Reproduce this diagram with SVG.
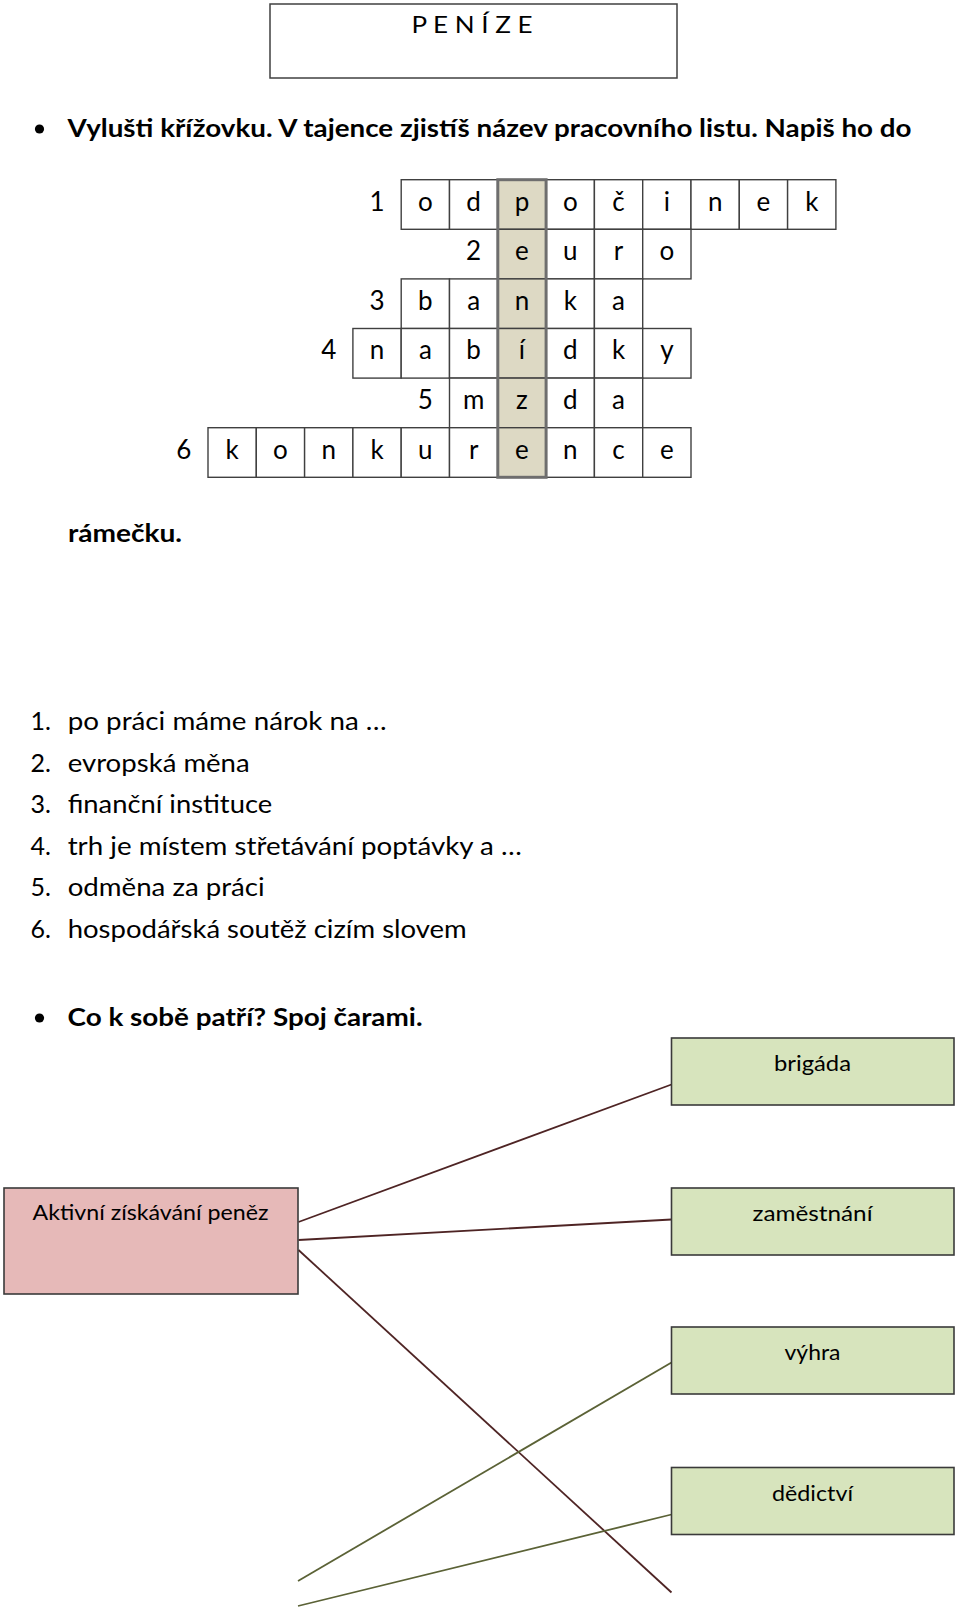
<svg xmlns="http://www.w3.org/2000/svg" width="960" height="1609" viewBox="0 0 960 1609">
<style>
text{font-family:Lato,"Open Sans","Liberation Sans",sans-serif;fill:#000}
.b{font-weight:bold;font-size:24px}
.t{font-size:24px}
.l{font-size:25px}
.c{font-size:26px;text-anchor:middle}
.cell{fill:#fff;stroke:#404040;stroke-width:1.4}
.sh{fill:#ddd9c4;stroke:#404040;stroke-width:1.4}
.box{stroke:#3a3a3a;stroke-width:1.6}
.g{fill:#d7e4bd}
.p{fill:#e6b9b8}
.bx{font-size:22px;text-anchor:middle}
.m{stroke:#4e2424;stroke-width:1.8;fill:none}
.o{stroke:#5b6236;stroke-width:1.8;fill:none}
</style>
<rect width="960" height="1609" fill="#fff"/>
<g id="title">
<rect x="270" y="4" width="407" height="74" fill="#fff" stroke="#404040" stroke-width="1.5"/>
<text class="t" x="411.5" y="33" textLength="121" lengthAdjust="spacingAndGlyphs">P E N Í Z E</text>
</g>
<g id="instruction1">
<circle cx="39.5" cy="129" r="4.6"/>
<text class="b" x="67.5" y="137" textLength="844" lengthAdjust="spacingAndGlyphs">Vylušti křížovku. V tajence zjistíš název pracovního listu. Napiš ho do</text>
<text class="b" x="68" y="542" textLength="114" lengthAdjust="spacingAndGlyphs">rámečku.</text>
</g>
<g id="crossword">
<rect class="cell" x="401.2" y="179.7" width="48.3" height="49.6"/>
<rect class="cell" x="449.5" y="179.7" width="48.3" height="49.6"/>
<rect class="sh" x="497.8" y="179.7" width="48.3" height="49.6"/>
<rect class="cell" x="546.1" y="179.7" width="48.3" height="49.6"/>
<rect class="cell" x="594.4" y="179.7" width="48.3" height="49.6"/>
<rect class="cell" x="642.7" y="179.7" width="48.3" height="49.6"/>
<rect class="cell" x="691" y="179.7" width="48.3" height="49.6"/>
<rect class="cell" x="739.3" y="179.7" width="48.3" height="49.6"/>
<rect class="cell" x="787.6" y="179.7" width="48.3" height="49.6"/>
<rect class="sh" x="497.8" y="229.3" width="48.3" height="49.6"/>
<rect class="cell" x="546.1" y="229.3" width="48.3" height="49.6"/>
<rect class="cell" x="594.4" y="229.3" width="48.3" height="49.6"/>
<rect class="cell" x="642.7" y="229.3" width="48.3" height="49.6"/>
<rect class="cell" x="401.2" y="278.9" width="48.3" height="49.6"/>
<rect class="cell" x="449.5" y="278.9" width="48.3" height="49.6"/>
<rect class="sh" x="497.8" y="278.9" width="48.3" height="49.6"/>
<rect class="cell" x="546.1" y="278.9" width="48.3" height="49.6"/>
<rect class="cell" x="594.4" y="278.9" width="48.3" height="49.6"/>
<rect class="cell" x="352.9" y="328.5" width="48.3" height="49.6"/>
<rect class="cell" x="401.2" y="328.5" width="48.3" height="49.6"/>
<rect class="cell" x="449.5" y="328.5" width="48.3" height="49.6"/>
<rect class="sh" x="497.8" y="328.5" width="48.3" height="49.6"/>
<rect class="cell" x="546.1" y="328.5" width="48.3" height="49.6"/>
<rect class="cell" x="594.4" y="328.5" width="48.3" height="49.6"/>
<rect class="cell" x="642.7" y="328.5" width="48.3" height="49.6"/>
<rect class="cell" x="449.5" y="378.1" width="48.3" height="49.6"/>
<rect class="sh" x="497.8" y="378.1" width="48.3" height="49.6"/>
<rect class="cell" x="546.1" y="378.1" width="48.3" height="49.6"/>
<rect class="cell" x="594.4" y="378.1" width="48.3" height="49.6"/>
<rect class="cell" x="208" y="427.7" width="48.3" height="49.6"/>
<rect class="cell" x="256.3" y="427.7" width="48.3" height="49.6"/>
<rect class="cell" x="304.6" y="427.7" width="48.3" height="49.6"/>
<rect class="cell" x="352.9" y="427.7" width="48.3" height="49.6"/>
<rect class="cell" x="401.2" y="427.7" width="48.3" height="49.6"/>
<rect class="cell" x="449.5" y="427.7" width="48.3" height="49.6"/>
<rect class="sh" x="497.8" y="427.7" width="48.3" height="49.6"/>
<rect class="cell" x="546.1" y="427.7" width="48.3" height="49.6"/>
<rect class="cell" x="594.4" y="427.7" width="48.3" height="49.6"/>
<rect class="cell" x="642.7" y="427.7" width="48.3" height="49.6"/>
<rect x="497.8" y="179.7" width="48.3" height="297.6" fill="none" stroke="#6e6e6e" stroke-width="3"/>
<text class="c" y="210.5"><tspan x="377.05">1</tspan><tspan x="425.35">o</tspan><tspan x="473.65">d</tspan><tspan x="521.95">p</tspan><tspan x="570.25">o</tspan><tspan x="618.55">č</tspan><tspan x="666.85">i</tspan><tspan x="715.15">n</tspan><tspan x="763.45">e</tspan><tspan x="811.75">k</tspan></text>
<text class="c" y="260.1"><tspan x="473.65">2</tspan><tspan x="521.95">e</tspan><tspan x="570.25">u</tspan><tspan x="618.55">r</tspan><tspan x="666.85">o</tspan></text>
<text class="c" y="309.7"><tspan x="377.05">3</tspan><tspan x="425.35">b</tspan><tspan x="473.65">a</tspan><tspan x="521.95">n</tspan><tspan x="570.25">k</tspan><tspan x="618.55">a</tspan></text>
<text class="c" y="359.3"><tspan x="328.75">4</tspan><tspan x="377.05">n</tspan><tspan x="425.35">a</tspan><tspan x="473.65">b</tspan><tspan x="521.95">í</tspan><tspan x="570.25">d</tspan><tspan x="618.55">k</tspan><tspan x="666.85">y</tspan></text>
<text class="c" y="408.9"><tspan x="425.35">5</tspan><tspan x="473.65">m</tspan><tspan x="521.95">z</tspan><tspan x="570.25">d</tspan><tspan x="618.55">a</tspan></text>
<text class="c" y="458.5"><tspan x="183.85">6</tspan><tspan x="232.15">k</tspan><tspan x="280.45">o</tspan><tspan x="328.75">n</tspan><tspan x="377.05">k</tspan><tspan x="425.35">u</tspan><tspan x="473.65">r</tspan><tspan x="521.95">e</tspan><tspan x="570.25">n</tspan><tspan x="618.55">c</tspan><tspan x="666.85">e</tspan></text>
</g>
<g id="clues">
<text class="l" x="30.5" y="730">1.</text><text class="l" x="67.7" y="730" textLength="319" lengthAdjust="spacingAndGlyphs">po práci máme nárok na …</text>
<text class="l" x="30.5" y="771.6">2.</text><text class="l" x="67.7" y="771.6" textLength="182" lengthAdjust="spacingAndGlyphs">evropská měna</text>
<text class="l" x="30.5" y="813.2">3.</text><text class="l" x="67.7" y="813.2" textLength="204.5" lengthAdjust="spacingAndGlyphs">finanční instituce</text>
<text class="l" x="30.5" y="854.8">4.</text><text class="l" x="67.7" y="854.8" textLength="454" lengthAdjust="spacingAndGlyphs">trh je místem střetávání poptávky a …</text>
<text class="l" x="30.5" y="896.4">5.</text><text class="l" x="67.7" y="896.4" textLength="197" lengthAdjust="spacingAndGlyphs">odměna za práci</text>
<text class="l" x="30.5" y="938">6.</text><text class="l" x="67.7" y="938" textLength="399" lengthAdjust="spacingAndGlyphs">hospodářská soutěž cizím slovem</text>
</g>
<g id="instruction2">
<circle cx="39.5" cy="1018" r="4.6"/>
<text class="b" x="67.5" y="1026" textLength="355" lengthAdjust="spacingAndGlyphs">Co k sobě patří? Spoj čarami.</text>
</g>
<g id="connectors">
<line class="m" x1="298.5" y1="1222" x2="671.5" y2="1084.5"/>
<line class="m" x1="298.5" y1="1240" x2="671.5" y2="1219.5"/>
<line class="m" x1="298.5" y1="1250" x2="671.5" y2="1592.5"/>
<line class="o" x1="298" y1="1581" x2="671.5" y2="1362.5"/>
<line class="o" x1="298" y1="1606" x2="671.5" y2="1514.5"/>
</g>
<g id="node-aktivni">
<rect class="box p" x="4" y="1188" width="294" height="106"/>
<text class="bx" x="150.5" y="1220" textLength="236" lengthAdjust="spacingAndGlyphs">Aktivní získávání peněz</text>
</g>
<g id="node-brigada">
<rect class="box g" x="671.5" y="1038" width="282.5" height="67"/>
<text class="bx" x="812.5" y="1071" textLength="77" lengthAdjust="spacingAndGlyphs">brigáda</text>
</g>
<g id="node-zamestnani">
<rect class="box g" x="671.5" y="1188" width="282.5" height="67"/>
<text class="bx" x="812.5" y="1221" textLength="120" lengthAdjust="spacingAndGlyphs">zaměstnání</text>
</g>
<g id="node-vyhra">
<rect class="box g" x="671.5" y="1327" width="282.5" height="67"/>
<text class="bx" x="812.5" y="1360" textLength="56" lengthAdjust="spacingAndGlyphs">výhra</text>
</g>
<g id="node-dedictvi">
<rect class="box g" x="671.5" y="1467.5" width="282.5" height="67"/>
<text class="bx" x="812.5" y="1500.5" textLength="81" lengthAdjust="spacingAndGlyphs">dědictví</text>
</g>
</svg>
